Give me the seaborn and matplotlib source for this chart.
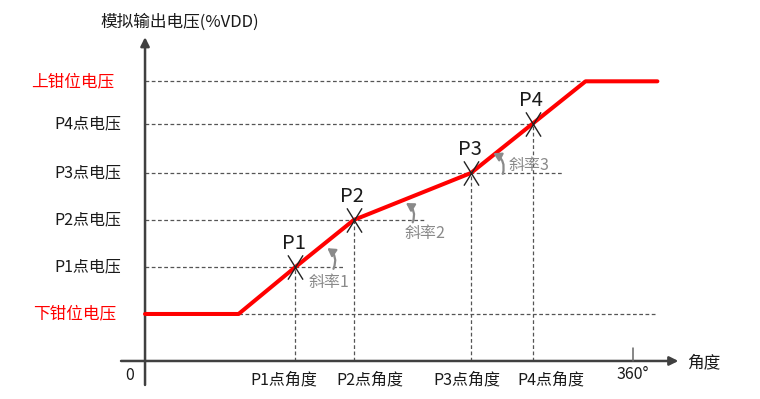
"""
Analog output voltage vs. angle transfer curve (schematic).
"""
import matplotlib
matplotlib.use("Agg")
import matplotlib.pyplot as plt
from matplotlib.path import Path
import pandas as pd
import seaborn as sns

# transfer curve: angle (deg) -> output voltage (%VDD, schematic units)
curve_angle = [0, 69, 111, 154, 240.5, 286, 325, 378]
curve_volt = [10, 10, 20, 30, 40, 50.5, 59.5, 59.5]

point_names = ["P1", "P2", "P3", "P4"]
point_angle = [111, 154, 240.5, 286]
point_volt = [20, 30, 40, 50.5]

clamp_low = 10
clamp_high = 59.5
clamp_low_label = "下钳位电压"
clamp_high_label = "上钳位电压"

volt_labels = ["P1点电压", "P2点电压", "P3点电压", "P4点电压"]
angle_labels = ["P1点角度", "P2点角度", "P3点角度", "P4点角度"]
slope_labels = ["斜率1", "斜率2", "斜率3"]

full_turn = 360
ylabel = "模拟输出电压(%VDD)"
xlabel = "角度"

AXIS_C = "#404040"
GUIDE_C = "#555555"
SLOPE_C = "#8a8a8a"
TEXT_C = "#1a1a1a"
RED = "#ff0000"
DASH = (0, (3, 2))

sns.set_theme(style="white")
plt.rcParams["font.family"] = ["Noto Sans CJK SC", "DejaVu Sans"]

fig = plt.figure(figsize=(7.6, 3.99), dpi=100)
ax = fig.add_axes([0, 0, 1, 1])
ax.set_xlim(-107, 453.7)
ax.set_ylim(-8.09, 76.8)
ax.axis("off")

x_end = curve_angle[-1]

# horizontal guides
ax.plot([0, x_end], [clamp_high, clamp_high], ls=DASH, lw=0.9, color=GUIDE_C, zorder=1)
ax.plot([0, x_end], [clamp_low, clamp_low], ls=DASH, lw=0.9, color=GUIDE_C, zorder=1)
guide_reach = [146, 207, 308, 286]  # right end of each point's guide
for a, v, r in zip(point_angle, point_volt, guide_reach):
    ax.plot([0, r], [v, v], ls=DASH, lw=0.9, color=GUIDE_C, zorder=1)
    ax.plot([a, a], [0, v], ls=DASH, lw=0.9, color=GUIDE_C, zorder=1)

# transfer curve
df = pd.DataFrame({"angle": curve_angle, "volt": curve_volt})
sns.lineplot(data=df, x="angle", y="volt", ax=ax, color=RED, lw=2.9,
             sort=False, estimator=None, zorder=3, solid_capstyle="round")
ax.set_xlabel("")
ax.set_ylabel("")

# X markers at points
cross = Path([(-0.31, -0.5), (0.31, 0.5), (-0.31, 0.5), (0.31, -0.5)],
             [Path.MOVETO, Path.LINETO, Path.MOVETO, Path.LINETO])
ax.plot(point_angle, point_volt, ls="none", marker=cross, ms=17.5,
        mec="#222222", mfc="none", mew=1.0, zorder=4)
for name, a, v in zip(point_names, point_angle, point_volt):
    ax.annotate(name, (a, v), xytext=(-1, 13), textcoords="offset points",
                ha="center", va="baseline", fontsize=14.5, color=TEXT_C)

# axes with arrows
arrow = dict(arrowstyle="-|>", lw=1.8, color=AXIS_C, mutation_scale=13,
             shrinkA=0, shrinkB=0)
ax.annotate("", xy=(0, 68.9), xytext=(0, -5.1), arrowprops=arrow, zorder=2)
ax.annotate("", xy=(393.5, 0), xytext=(-17.7, 0), arrowprops=arrow, zorder=2)
ax.plot([full_turn, full_turn], [0, 2.8], lw=1.1, color="#666666")

# axis text
ax.text(25.8, 72.1, ylabel, ha="center", va="center", fontsize=12, color=TEXT_C)
ax.text(400, -0.3, xlabel, ha="left", va="center", fontsize=12, color=TEXT_C)
ax.text(-11, -3.0, "0", ha="center", va="center", fontsize=11.5, color=TEXT_C)
ax.text(full_turn, -2.8, "360°", ha="center", va="center", fontsize=11.5, color=TEXT_C)
# bottom labels are nudged sideways so neighbours do not collide
label_shift = [-8.5, 12, -3, 13.5]
for lab, a, s in zip(angle_labels, point_angle, label_shift):
    ax.text(a + s, -4.1, lab, ha="center", va="center", fontsize=11.5, color=TEXT_C)
for lab, v in zip(volt_labels, point_volt):
    ax.text(-17.5, v, lab, ha="right", va="center", fontsize=11.5, color=TEXT_C)
ax.text(-23, clamp_high, clamp_high_label, ha="right", va="center",
        fontsize=12, color=RED, style="italic")
ax.text(-21, clamp_low, clamp_low_label, ha="right", va="center",
        fontsize=12, color=RED, style="italic")

# slope callouts: (arrow head, arrow tail, text position, text alignment)
slope_layout = [
    ((134.5, 24.0), (139, 19.6), (135.5, 16.8), "center"),
    ((192.5, 33.6), (197.5, 29.5), (206.5, 27.2), "center"),
    ((257, 44.2), (264, 39.8), (268, 41.6), "left"),
]
for lab, (head, tail, pos, ha) in zip(slope_labels, slope_layout):
    ax.annotate("", xy=head, xytext=tail,
                arrowprops=dict(arrowstyle="-|>,head_length=0.5,head_width=0.3",
                                lw=1.6, color=SLOPE_C, mutation_scale=9,
                                shrinkA=0, shrinkB=0,
                                connectionstyle="arc3,rad=0.4"), zorder=5)
    ax.text(pos[0], pos[1], lab, ha=ha, va="center", fontsize=11.5, color=SLOPE_C)

fig.savefig("out.png", dpi=100)
plt.close(fig)
